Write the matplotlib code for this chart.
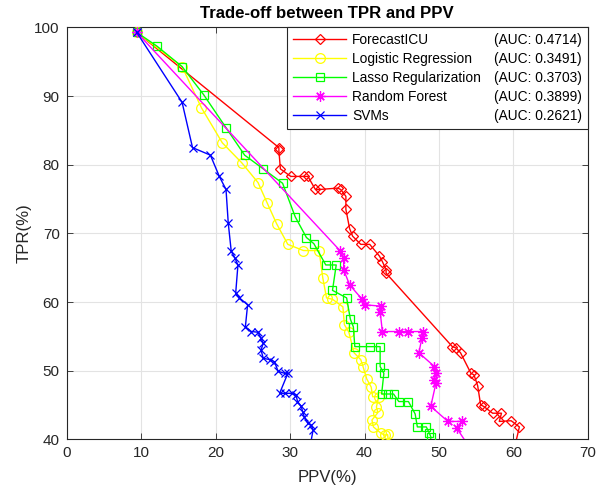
import matplotlib
matplotlib.use("Agg")
import matplotlib.pyplot as plt
from matplotlib.lines import Line2D

plt.rcParams['font.family'] = ['Liberation Sans', 'DejaVu Sans']

# ---------------- data (PPV %, TPR %) ----------------
names = ["ForecastICU", "Logistic Regression", "Lasso Regularization", "Random Forest", "SVMs"]
aucs = ["(AUC: 0.4714)", "(AUC: 0.3491)", "(AUC: 0.3703)", "(AUC: 0.3899)", "(AUC: 0.2621)"]

fc_ppv = [9.4, 28.5, 28.5, 28.7, 30.1, 31.9, 32.4, 33.4, 34.0, 36.4, 36.8, 37.5, 37.5, 38.0, 38.4,
          39.5, 40.7, 42.0, 42.4, 42.9, 42.9, 51.8, 52.3, 52.9, 54.3, 54.7, 55.2, 55.6, 56.0,
          57.2, 58.4, 58.1, 59.7, 60.8, 60.2]
fc_tpr = [99.3, 82.5, 82.1, 79.4, 78.3, 78.3, 78.3, 76.4, 76.4, 76.6, 76.4, 75.4, 73.5, 70.7, 69.6,
          68.4, 68.4, 66.7, 65.9, 64.7, 64.2, 53.5, 53.3, 52.6, 49.6, 49.4, 47.8, 45.0, 44.8,
          43.8, 43.8, 42.6, 42.7, 41.8, 39.0]

lr_ppv = [9.4, 15.5, 18.1, 20.9, 23.5, 25.7, 26.9, 28.2, 29.7, 31.8, 33.9, 34.4, 34.9, 35.7, 37.1,
          37.3, 37.9, 38.6, 39.5, 39.8, 40.3, 40.9, 41.1, 41.9, 41.6, 41.8, 41.0, 41.2, 42.2, 42.7,
          43.1, 43.3]
lr_tpr = [99.3, 94.3, 88.3, 83.2, 80.3, 77.4, 74.5, 71.4, 68.4, 67.5, 67.5, 63.5, 60.6, 60.4, 59.3,
          56.7, 55.6, 52.6, 51.6, 50.6, 48.8, 47.6, 46.2, 46.2, 44.7, 43.9, 42.8, 41.8, 40.9, 40.6,
          40.7, 39.0]

la_ppv = [9.4, 12.1, 15.5, 18.4, 21.4, 23.9, 26.4, 29.0, 30.7, 32.2, 33.2, 34.8, 36.2, 35.7, 37.6,
          38.1, 38.5, 38.7, 40.8, 42.1, 42.1, 42.6, 42.3, 43.2, 43.9, 44.6, 45.9, 46.8, 47.1, 48.3,
          48.7, 48.9, 48.9]
la_tpr = [99.3, 97.3, 94.3, 90.2, 85.4, 81.4, 79.4, 77.3, 72.4, 69.4, 68.5, 65.4, 65.4, 61.7, 60.6,
          57.5, 56.4, 53.5, 53.5, 53.5, 50.6, 49.6, 46.6, 46.6, 46.6, 45.5, 45.5, 43.7, 41.8, 41.8,
          40.9, 40.4, 39.0]

rf_ppv = [9.4, 36.7, 37.2, 37.2, 38.0, 39.6, 40.0, 42.2, 42.1, 42.4, 44.7, 45.8, 47.8, 47.7, 47.3,
          49.4, 49.6, 49.4, 49.6, 48.9, 51.2, 53.1, 52.4, 54.0]
rf_tpr = [99.3, 67.5, 66.4, 64.7, 62.5, 60.5, 59.6, 59.4, 58.6, 55.7, 55.7, 55.7, 55.7, 54.7, 52.6,
          50.6, 49.6, 48.7, 48.2, 44.8, 42.6, 42.6, 41.6, 39.0]

svm_ppv = [9.4, 15.5, 16.9, 19.3, 20.5, 21.4, 21.7, 22.1, 22.6, 23.0, 22.7, 23.2, 24.3, 24.0, 24.8,
           25.7, 26.1, 26.4, 26.1, 26.4, 27.3, 27.9, 28.4, 29.3, 29.7, 28.6, 29.3, 30.2, 30.8, 31.0,
           31.5, 31.7, 31.9, 32.4, 32.8, 33.1, 32.7]
svm_tpr = [99.3, 89.1, 82.5, 81.4, 78.3, 76.4, 71.5, 67.4, 66.4, 65.4, 61.3, 60.6, 59.6, 56.4, 55.7,
           55.6, 54.7, 54.0, 53.0, 51.8, 51.6, 51.3, 49.9, 49.6, 49.6, 46.7, 46.7, 46.7, 46.5, 45.5,
           44.8, 44.0, 43.3, 42.3, 42.1, 41.4, 39.0]

x_ticks = [0, 10, 20, 30, 40, 50, 60, 70]
y_ticks = [40, 50, 60, 70, 80, 90, 100]

# ---------------- figure ----------------
fig = plt.figure(figsize=(5.97, 4.90), dpi=100)
ax = fig.add_axes([0.1117, 0.1035, 0.873, 0.8404])

dark = '#262626'
series = [
    (fc_ppv, fc_tpr, '#ff0000', dict(marker='D', ms=5.4)),
    (lr_ppv, lr_tpr, '#ffff00', dict(marker='o', ms=7.0)),
    (la_ppv, la_tpr, '#00ff00', dict(marker='s', ms=5.4)),
    (rf_ppv, rf_tpr, '#ff00ff', dict(marker=(8, 2, 0), ms=7.5)),
    (svm_ppv, svm_tpr, '#0000ff', dict(marker='x', ms=6.0)),
]
handles = []
for (xs, ys, col, mk) in series:
    h, = ax.plot(xs, ys, color=col, lw=1.0, mfc='none', mec=col, mew=0.9, zorder=3, **mk)
    handles.append(h)

ax.set_xlim(0, 70)
ax.set_ylim(40, 100)
ax.set_xticks(x_ticks)
ax.set_yticks(y_ticks)
ax.grid(True, color='#e3e3e3', lw=0.8)
ax.set_axisbelow(True)
ax.tick_params(direction='in', length=4, width=0.6, colors=dark, labelsize=11,
               top=True, right=True, pad=5)
for sp in ax.spines.values():
    sp.set_color(dark)
    sp.set_linewidth(0.8)

ax.set_xlabel('PPV(%)', fontsize=12.1, color=dark, labelpad=7)
ax.set_ylabel('TPR(%)', fontsize=12.1, color=dark, labelpad=2)
ax.set_title('Trade-off between TPR and PPV', fontsize=12.1, fontweight='bold', pad=7)

blank = [Line2D([], [], linestyle='none', marker='none') for _ in aucs]
leg = ax.legend(handles + blank, names + aucs, ncol=2, mode='expand',
                loc='upper left', bbox_to_anchor=(0.4226, 0.0, 0.5774, 1.0),
                borderaxespad=0, fontsize=9.9, handlelength=3.9, handletextpad=0.4,
                labelspacing=0.36, borderpad=0.42, columnspacing=0.0,
                fancybox=False, framealpha=1, edgecolor=dark)
leg.get_frame().set_linewidth(0.8)

fig.savefig('out.png', dpi=100)
